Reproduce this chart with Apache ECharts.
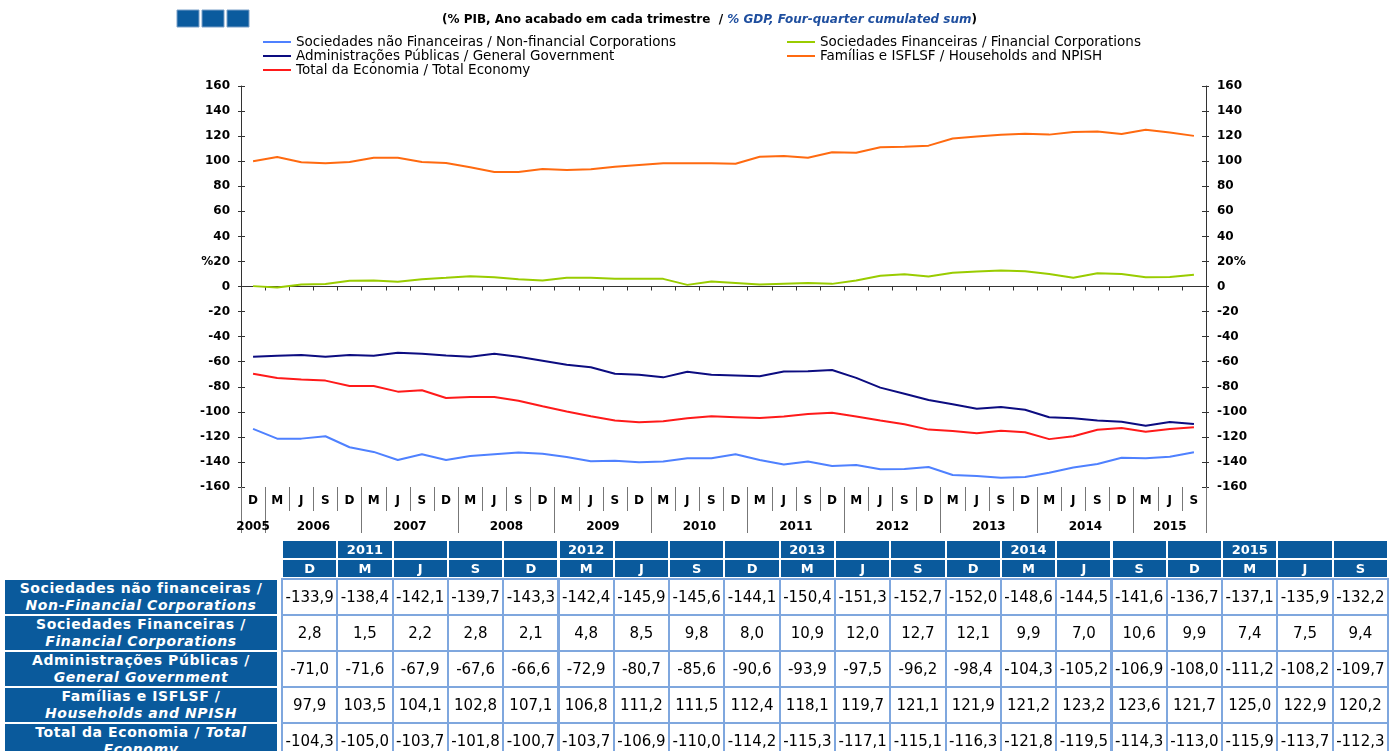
<!DOCTYPE html>
<html>
<head>
<meta charset="utf-8">
<script src="https://cdn.jsdelivr.net/npm/echarts@6/dist/echarts.min.js"></script>
<style>
  body { margin: 0; background: #fff; overflow: hidden; }
  #chart { position: absolute; left: 0; top: 0; width: 1398px; height: 751px; }
  #tbl { position: absolute; left: 0; top: 0; width: 1398px; height: 751px; overflow: hidden; font-family: 'DejaVu Sans', sans-serif; }
  .c { position: absolute; box-sizing: border-box; display: flex; align-items: center; justify-content: center; text-align: center; }
  .hd { background: #0a5a9c; color: #fff; font-weight: bold; font-size: 13px; }
  .lab { background: #0a5a9c; color: #fff; font-weight: bold; font-size: 14px; letter-spacing: 0.6px; line-height: 17px; flex-direction: column; }
  .val { background: #fff; color: #000; font-size: 15px; }
  .grid { position: absolute; background: #7fa7de; }
</style>
</head>
<body>
<div id="chart"></div>
<div id="tbl"></div>
<script>
// trimestres D2005 ... S2015
var quarterLabels = ['D','M','J','S','D','M','J','S','D','M','J','S','D','M','J','S','D','M','J','S',
                     'D','M','J','S','D','M','J','S','D','M','J','S','D','M','J','S','D','M','J','S'];
var quarterYears = [2005, 2006,2006,2006,2006, 2007,2007,2007,2007, 2008,2008,2008,2008,
                    2009,2009,2009,2009, 2010,2010,2010,2010, 2011,2011,2011,2011,
                    2012,2012,2012,2012, 2013,2013,2013,2013, 2014,2014,2014,2014, 2015,2015,2015];
var years = [2005, 2006, 2007, 2008, 2009, 2010, 2011, 2012, 2013, 2014, 2015];
var yTicks = [-160, -140, -120, -100, -80, -60, -40, -20, 0, 20, 40, 60, 80, 100, 120, 140, 160];

// séries (% PIB)
var nonFinancial = [-113.6,-121.4,-121.4,-119.5,-128.3,-132.0,-138.4,-133.8,-138.4,-135.2,-133.8,-132.5,-133.5,-136.0,-139.5,-139.0,-140.2,-139.7,-137.0,-137.0,
                    -133.9,-138.4,-142.1,-139.7,-143.3,-142.4,-145.9,-145.6,-144.1,-150.4,-151.3,-152.7,-152.0,-148.6,-144.5,-141.6,-136.7,-137.1,-135.9,-132.2];
var financial = [0.3,-0.8,1.6,2.0,4.5,4.8,3.7,5.8,6.9,8.2,7.4,5.8,4.8,6.9,6.9,6.1,6.1,6.1,1.3,4.0,
                 2.8,1.5,2.2,2.8,2.1,4.8,8.5,9.8,8.0,10.9,12.0,12.7,12.1,9.9,7.0,10.6,9.9,7.4,7.5,9.4];
var government = [-56.0,-55.2,-54.7,-56.0,-54.7,-55.2,-52.8,-53.6,-55.0,-56.0,-53.6,-56.0,-59.2,-62.4,-64.5,-69.6,-70.4,-72.5,-68.0,-70.4,
                  -71.0,-71.6,-67.9,-67.6,-66.6,-72.9,-80.7,-85.6,-90.6,-93.9,-97.5,-96.2,-98.4,-104.3,-105.2,-106.9,-108.0,-111.2,-108.2,-109.7];
var households = [99.9,103.3,99.1,98.3,99.4,102.8,102.8,99.4,98.6,95.1,91.4,91.4,93.8,93.0,93.5,95.6,97.0,98.3,98.3,98.3,
                  97.9,103.5,104.1,102.8,107.1,106.8,111.2,111.5,112.4,118.1,119.7,121.1,121.9,121.2,123.2,123.6,121.7,125.0,122.9,120.2];
var totalEconomy = [-69.6,-73.0,-74.3,-75.1,-79.4,-79.4,-83.9,-82.8,-89.0,-88.2,-88.2,-91.1,-95.6,-99.8,-103.6,-107.0,-108.4,-107.5,-105.2,-103.6,
                    -104.3,-105.0,-103.7,-101.8,-100.7,-103.7,-106.9,-110.0,-114.2,-115.3,-117.1,-115.1,-116.3,-121.8,-119.5,-114.3,-113.0,-115.9,-113.7,-112.3];

var seriesNames = [
  'Sociedades não Financeiras / Non-financial Corporations',
  'Sociedades Financeiras / Financial Corporations',
  'Administrações Públicas / General Government',
  'Famílias e ISFLSF / Households and NPISH',
  'Total da Economia / Total Economy'
];
var seriesData = [nonFinancial, financial, government, households, totalEconomy];
var seriesColors = ['#4f81ff', '#99cc00', '#0c0c80', '#ff6a10', '#ff1a1a'];

// etiquetas da tabela
var tableRowLabels = [
  'Sociedades não financeiras /<br><i>Non-Financial Corporations</i>',
  'Sociedades Financeiras /<br><i>Financial Corporations</i>',
  'Administrações Públicas /<br><i>General Government</i>',
  'Famílias e ISFLSF /<br><i>Households and NPISH</i>',
  'Total da Economia / <i>Total</i><br><i>Economy</i>'
];
var tableFirst = 20; // D2010

var font = 'DejaVu Sans';

// posições dos anos no eixo (centro de cada grupo de trimestres)
var yearCenters = [], yearBounds = [0, quarterLabels.length];
years.forEach(function (y) {
  var f = quarterYears.indexOf(y), l = quarterYears.lastIndexOf(y);
  yearCenters.push((f + l + 1) / 2);
  if (f > 0) yearBounds.push(f);
});

var chart = echarts.init(document.getElementById('chart'));

function yAxisDef(pos, inside, showLabel) {
  return {
    type: 'value', position: pos, min: yTicks[0], max: yTicks[yTicks.length - 1], interval: 20,
    axisLine: { show: !inside, lineStyle: { color: '#333', width: 1 } },
    axisTick: { show: true, inside: inside, length: inside ? 4 : 3, lineStyle: { color: '#333' } },
    splitLine: { show: false },
    axisLabel: {
      show: showLabel, margin: 11, fontFamily: font, fontWeight: 'bold', fontSize: 12, color: '#000',
      formatter: function (v) {
        if (v === 20) return pos === 'left' ? '%20' : '20%';
        return v;
      }
    }
  };
}

var legendText = { fontFamily: font, fontSize: 13.5, lineHeight: 14, color: '#000' };

chart.setOption({
  animation: false,
  title: {
    text: '{a|(% PIB, Ano acabado em cada trimestre  / }{b|% GDP, Four-quarter cumulated sum}{a|)}',
    left: 437, top: 9,
    textStyle: {
      rich: {
        a: { fontFamily: font, fontWeight: 'bold', fontSize: 12, color: '#000' },
        b: { fontFamily: font, fontWeight: 'bold', fontStyle: 'italic', fontSize: 12, color: '#1f4f9f' }
      }
    }
  },
  graphic: [0, 1, 2].map(function (i) {
    return { type: 'rect', shape: { x: 177 + i * 25, y: 10, width: 22, height: 17 },
             style: { fill: '#0b5b9e', stroke: '#7aa0c8', lineWidth: 1 } };
  }),
  legend: [
    { left: 258, top: 30, orient: 'vertical', icon: 'rect', itemWidth: 28, itemHeight: 2, itemGap: 0,
      selectedMode: false, data: [seriesNames[0], seriesNames[2], seriesNames[4]], textStyle: legendText },
    { left: 782, top: 30, orient: 'vertical', icon: 'rect', itemWidth: 28, itemHeight: 2, itemGap: 0,
      selectedMode: false, data: [seriesNames[1], seriesNames[3]], textStyle: legendText }
  ],
  grid: { left: 241, right: 192, top: 86, bottom: 264 },
  xAxis: [
    { type: 'category', data: quarterLabels, position: 'bottom',
      axisLine: { onZero: true, lineStyle: { color: '#333' } },
      axisTick: { show: true, length: 4, lineStyle: { color: '#333' } },
      axisLabel: { show: false } },
    { type: 'category', data: quarterLabels, position: 'bottom',
      axisLine: { show: false, onZero: false },
      axisTick: { show: true, length: 24, lineStyle: { color: '#777' } },
      axisLabel: { interval: 0, margin: 8, fontFamily: font, fontWeight: 'bold', fontSize: 12, color: '#000' } },
    { type: 'value', min: 0, max: quarterLabels.length, position: 'bottom', offset: 24,
      axisLine: { show: false, onZero: false },
      splitLine: { show: false },
      axisTick: { show: true, customValues: yearBounds, length: 22, lineStyle: { color: '#777' } },
      axisLabel: { customValues: yearCenters, margin: 10, fontFamily: font, fontWeight: 'bold', fontSize: 12, color: '#000',
        formatter: function (v) { return String(years[yearCenters.indexOf(v)]); } } }
  ],
  yAxis: [
    yAxisDef('left', false, true),
    yAxisDef('right', false, true),
    yAxisDef('left', true, false),
    yAxisDef('right', true, false)
  ],
  series: seriesData.map(function (d, i) {
    return { name: seriesNames[i], type: 'line', data: d, xAxisIndex: 0, yAxisIndex: 0,
             symbol: 'none', color: seriesColors[i], lineStyle: { width: 2, color: seriesColors[i] } };
  })
});

// tabela
var tbl = document.getElementById('tbl');
var colLeft = 283, colW = 55.3, rowTop = 580, rowH = 36;
var nCols = quarterLabels.length - tableFirst;
var html = '';
html += '<div class="grid" style="left:281px;top:578px;width:' + (nCols * colW + 2) + 'px;height:200px"></div>';
for (var c = 0; c < nCols; c++) {
  var q = tableFirst + c;
  var x = colLeft + c * colW;
  var yr = quarterLabels[q] === 'M' ? quarterYears[q] : '';
  html += '<div class="c hd" style="left:' + x + 'px;top:541px;width:' + (colW - 2) + 'px;height:17px">' + yr + '</div>';
  html += '<div class="c hd" style="left:' + x + 'px;top:560px;width:' + (colW - 2) + 'px;height:17px">' + quarterLabels[q] + '</div>';
}
seriesData.forEach(function (d, r) {
  var y = rowTop + r * rowH;
  html += '<div class="c lab" style="left:5px;top:' + y + 'px;width:272px;height:' + (rowH - 2) + 'px"><div>' + tableRowLabels[r] + '</div></div>';
  for (var c = 0; c < nCols; c++) {
    var v = d[tableFirst + c].toFixed(1).replace('.', ',');
    html += '<div class="c val" style="left:' + (colLeft + c * colW) + 'px;top:' + y + 'px;width:' + (colW - 2) + 'px;height:' + (rowH - 2) + 'px">' + v + '</div>';
  }
});
tbl.innerHTML = html;
</script>
</body>
</html>
